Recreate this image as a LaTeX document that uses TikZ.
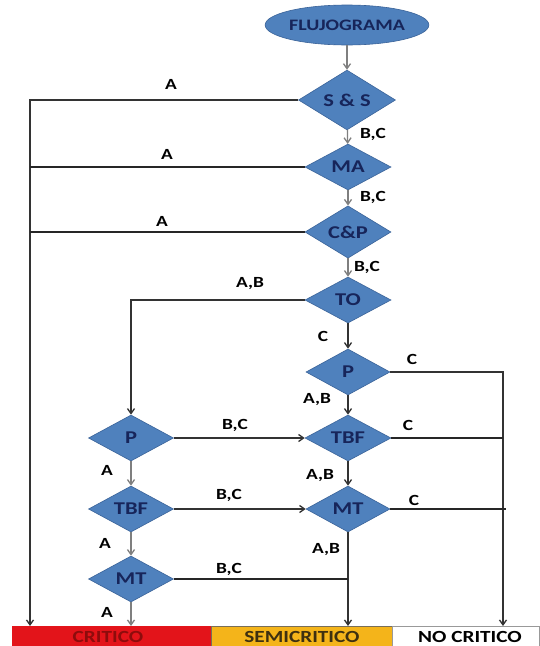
\documentclass[tikz,border=0pt]{standalone}
\usepackage{fontspec}
\setmainfont{Carlito}[FakeStretch=1.25]
\usetikzlibrary{shapes.geometric,arrows.meta}
\definecolor{dfill}{HTML}{4F81BD}
\definecolor{dline}{HTML}{3A6399}
\definecolor{dtext}{HTML}{17255A}
\definecolor{garrow}{HTML}{7F7F7F}
\definecolor{cred}{HTML}{E3141A}
\definecolor{credt}{HTML}{8E0C0C}
\definecolor{cyel}{HTML}{F4B41A}
\definecolor{cyelt}{HTML}{3E3010}
\begin{document}
\begin{tikzpicture}[x=1pt,y=-1pt,
 dec/.style={diamond, fill=dfill, draw=dline, line width=0.6pt, inner sep=0pt, minimum width=86pt, minimum height=46pt, font=\fontsize{18}{18}\selectfont\bfseries, text=dtext},
 lab/.style={font=\fontsize{15.5}{15.5}\selectfont\bfseries, text=black, inner sep=1pt},
 tip/.style={-{Straight Barb[length=5pt,width=7pt]}},
 garr/.style={draw=garrow, line width=1.3pt, tip},
 barr/.style={draw=black!80, line width=1.3pt, tip},
 ln/.style={draw=black!85, line width=1.2pt},
 barbox/.style={rectangle, inner sep=0pt, minimum height=20pt, anchor=north west},
 bartext/.style={font=\fontsize{17}{17}\selectfont\bfseries, inner sep=0pt},
]
\useasboundingbox (0,0) rectangle (539,646);
\fill[white] (0,0) rectangle (539,646);

% nodes
\node[ellipse, fill=dfill, draw=dline, line width=0.6pt, minimum width=138pt, minimum height=40pt, inner sep=0pt, font=\fontsize{16}{16}\selectfont\bfseries, text=dtext] (start) at (347,25) {FLUJOGRAMA};
\node[dec, minimum width=97pt] (ss) at (347,100) {S \& S};
\node[dec] (ma) at (348,167) {MA};
\node[dec] (cp) at (348,232) {C\&P};
\node[dec] (to) at (348,300) {TO};
\node[dec, minimum width=84pt] (p2) at (348,372) {P};
\node[dec] (tbf2) at (348,438) {TBF};
\node[dec, minimum width=85pt] (p1) at (131,438) {P};
\node[dec, minimum width=85pt] (tbf1) at (131,509) {TBF};
\node[dec, minimum width=84pt] (mt2) at (348,509) {MT};
\node[dec, minimum width=85pt] (mt1) at (131,579) {MT};

% bar
\node[barbox, fill=cred, minimum width=199pt] (crit) at (12,626) {};
\node[barbox, fill=cyel, draw=cyelt!70, line width=0.5pt, minimum width=181pt] (semi) at (211,626) {};
\node[barbox, fill=white, draw=black!40, line width=0.5pt, minimum width=147pt] (nocr) at (392,626) {};
\node[bartext, text=credt] (critT) at (108,637) {CRITICO};
\node[bartext, text=cyelt] (semiT) at (302,637) {SEMICRITICO};
\node[bartext, text=black] (nocrT) at (470,637) {NO CRITICO};

\coordinate (xl) at (30,0);
\coordinate (xr) at (503,0);
\coordinate (xr2) at (506,0);

% main column
\draw[garr] (start) -- (ss);
\draw[garr] (ss) -- (ma);
\draw[garr] (ma) -- (cp);
\draw[garr] (cp) -- (to);
\draw[barr] (to) -- (p2);
\draw[barr] (p2) -- (tbf2);
\draw[barr] (tbf2) -- (mt2);
\draw[barr] (mt2.south) -- (mt2.south |- crit.north);

% left A line
\draw[barr] (ss.west) -| (xl |- crit.north);
\draw[ln] (ma.west) -- (ma.west -| xl);
\draw[ln] (cp.west) -- (cp.west -| xl);

% TO -> left P
\draw[barr] (to.west) -| (p1.north);

% right C line
\draw[barr] (p2.east) -| (xr |- crit.north);
\draw[ln] (tbf2.east) -- (tbf2.east -| xr);
\draw[ln] (mt2.east) -- (mt2.east -| xr2);

% left column
\draw[barr] (p1) -- (tbf2);
\draw[garr] (p1) -- (tbf1);
\draw[barr] (tbf1) -- (mt2);
\draw[garr] (tbf1) -- (mt1);
\draw[ln] (mt1.east) -- (mt1.east -| mt2.south);
\draw[garr] (mt1.south) -- (mt1.south |- crit.north);

% labels
\node[lab] (l1) at (171,84) {A};
\node[lab] (l2) at (167,154) {A};
\node[lab] (l3) at (162,221) {A};
\node[lab] (l4) at (373,134) {B,C};
\node[lab] (l5) at (373,197) {B,C};
\node[lab] (l6) at (367,267) {B,C};
\node[lab] (l7) at (250,284) {A,B};
\node[lab] (l8) at (323,336) {C};
\node[lab] (l9) at (412,359) {C};
\node[lab] (l10) at (317,400) {A,B};
\node[lab] (l11) at (235,425) {B,C};
\node[lab] (l12) at (408,425) {C};
\node[lab] (l13) at (107,470) {A};
\node[lab] (l14) at (320,476) {A,B};
\node[lab] (l15) at (229,495) {B,C};
\node[lab] (l16) at (414,500) {C};
\node[lab] (l17) at (105,543) {A};
\node[lab] (l18) at (326,550) {A,B};
\node[lab] (l19) at (229,569) {B,C};
\node[lab] (l20) at (107,612) {A};
\end{tikzpicture}
\end{document}
